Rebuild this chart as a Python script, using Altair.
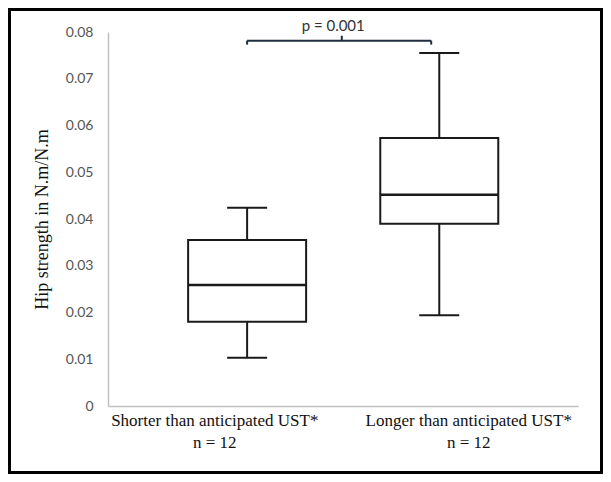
import altair as alt
import pandas as pd

# ---- data ----
groups = ["Shorter than anticipated UST*", "Longer than anticipated UST*"]
n_labels = ["n = 12", "n = 12"]
whisker_low = [0.0103, 0.0194]
q1 = [0.0180, 0.0390]
median = [0.0259, 0.0452]
q3 = [0.0355, 0.0573]
whisker_high = [0.0424, 0.0755]
y_ticks = [0, 0.01, 0.02, 0.03, 0.04, 0.05, 0.06, 0.07, 0.08]
p_label = "p = 0.001"
y_title = "Hip strength in N.m/N.m"

# ---- layout constants ----
box_pos = [1, 2]
label_pos = [0.829, 2.151]
x_domain = [0.302, 2.696]
W, H = 470, 374
PAD_L, PAD_T, PAD_R, PAD_B = 100, 24, 25, 68

df = pd.DataFrame({
    "x": box_pos, "group": groups, "low": whisker_low, "q1": q1,
    "median": median, "q3": q3, "high": whisker_high,
})

label_expr = "datum.value < 1.5 ? {} : {}".format(
    "['" + groups[0] + "','" + n_labels[0] + "']",
    "['" + groups[1] + "','" + n_labels[1] + "']",
)

xscale = alt.Scale(domain=x_domain, nice=False, zero=False)
yscale = alt.Scale(domain=[0, 0.08], nice=False, zero=True)

xaxis = alt.Axis(
    values=label_pos, labelExpr=label_expr, ticks=False, grid=False,
    domainColor="#c0c0c0", domainWidth=1.5, labelFont="Liberation Serif",
    labelFontSize=17, labelColor="#111111", labelLineHeight=22,
    labelPadding=6, labelOverlap=False, labelBound=False, labelFlush=False,
    labelLimit=0, title=None,
)
yaxis = alt.Axis(
    values=y_ticks, ticks=False, grid=False, domainColor="#c0c0c0",
    domainWidth=1.5, labelFont="Lato", labelFontSize=14, labelColor="#555555",
    labelExpr="datum.value == 0 ? '0' : format(datum.value, '.2f')",
    labelPadding=15, title=y_title, titleFont="Liberation Serif",
    titleFontSize=18, titleFontWeight="normal", titleColor="#111111",
    titleX=-66, titleY=H / 2, titleAngle=270, titleAlign="center",
    titleBaseline="middle",
)

X = alt.X("x:Q", scale=xscale, axis=xaxis)
base = alt.Chart(df)
INK = "#1a1a1a"

lower_whisker = base.mark_rule(color=INK, strokeWidth=2).encode(
    x=X, y=alt.Y("low:Q", scale=yscale, axis=yaxis), y2="q1:Q")
upper_whisker = base.mark_rule(color=INK, strokeWidth=2).encode(
    x=X, y=alt.Y("q3:Q", scale=yscale, axis=yaxis), y2="high:Q")
box = base.mark_bar(orient="vertical", size=118, fill="white", opacity=1,
                    stroke=INK, strokeWidth=2).encode(
    x=X, y=alt.Y("q1:Q", scale=yscale, axis=yaxis), y2="q3:Q")
med = base.mark_tick(orient="horizontal", size=118, thickness=2.5,
                     color=INK, opacity=1).encode(
    x=X, y=alt.Y("median:Q", scale=yscale, axis=yaxis))
cap_low = base.mark_tick(orient="horizontal", size=40, thickness=2,
                         color=INK, opacity=1).encode(
    x=X, y=alt.Y("low:Q", scale=yscale, axis=yaxis))
cap_high = base.mark_tick(orient="horizontal", size=40, thickness=2,
                          color=INK, opacity=1).encode(
    x=X, y=alt.Y("high:Q", scale=yscale, axis=yaxis))

# significance bracket
br_left, br_right, br_mid, txt_x = 1.0, 1.958, 1.4926, 1.448
br_y, br_end, br_top, txt_y = 0.07814, 0.0773, 0.0792, 0.0812
bracket_h = alt.Chart(pd.DataFrame({"x": [br_left], "x2": [br_right], "y": [br_y]})).mark_rule(
    color="#1f2d3d", strokeWidth=2).encode(
    x=X, x2="x2:Q", y=alt.Y("y:Q", scale=yscale, axis=yaxis))
bracket_v = alt.Chart(pd.DataFrame({
    "x": [br_left, br_right, br_mid],
    "y": [br_end, br_end, br_y],
    "y2": [br_y, br_y, br_top],
})).mark_rule(color="#1f2d3d", strokeWidth=2).encode(
    x=X, y=alt.Y("y:Q", scale=yscale, axis=yaxis), y2="y2:Q")
p_text = alt.Chart(pd.DataFrame({"x": [txt_x], "y": [txt_y], "t": [p_label]})).mark_text(
    font="Lato", fontSize=15, color="#333333", baseline="middle", align="center"
).encode(x=X, y=alt.Y("y:Q", scale=yscale, axis=yaxis), text="t:N")

frame = alt.Chart(pd.DataFrame({"a": [0]})).mark_rect(
    fill="transparent", stroke="black", strokeWidth=3, clip=False).encode(
    x=alt.value(-PAD_L + 1.5), x2=alt.value(W + PAD_R - 1.5),
    y=alt.value(-PAD_T + 1.5), y2=alt.value(H + PAD_B - 1.5))

chart = alt.layer(
    lower_whisker, upper_whisker, box, med, cap_low, cap_high,
    bracket_h, bracket_v, p_text, frame,
).properties(
    width=W, height=H,
    autosize=alt.AutoSizeParams(type="none"),
    padding={"left": PAD_L, "top": PAD_T, "right": PAD_R, "bottom": PAD_B},
    background="white",
).configure_view(stroke=None)

chart.save("out.html", embed_options={"renderer": "svg", "actions": False})
